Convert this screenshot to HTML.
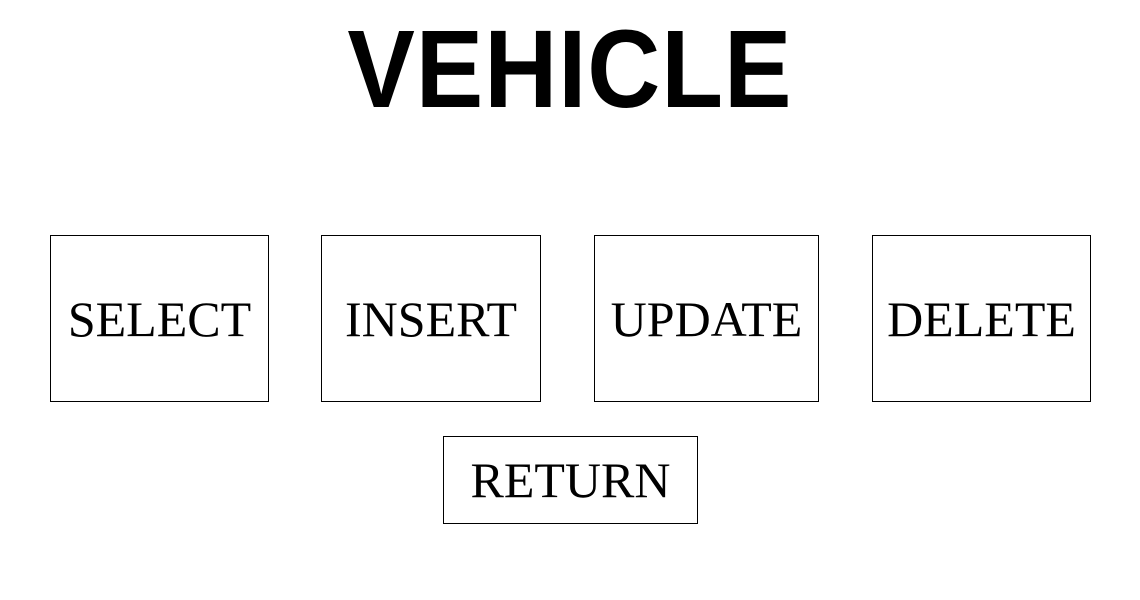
<!DOCTYPE html>
<html><head><meta charset="utf-8"><style>
html,body{margin:0;padding:0;background:#fff;width:1140px;height:600px;overflow:hidden;position:relative}
.title{position:absolute;left:0;width:1140px;top:10px;text-align:center;font-family:"Liberation Sans",sans-serif;font-weight:bold;font-size:110px;line-height:120px;color:#000}
.title span{display:inline-block;transform:scaleX(0.92);letter-spacing:1px}
.btn{position:absolute;box-sizing:border-box;border:1px solid #000;background:#fff;font-family:"Liberation Serif",serif;font-size:50px;color:#000;display:flex;align-items:center;justify-content:center;cursor:pointer}
</style></head><body>
<div class="title"><span>VEHICLE</span></div>
<div class="btn" style="left:50px;top:235px;width:219px;height:167px">SELECT</div>
<div class="btn" style="left:321px;top:235px;width:220px;height:167px">INSERT</div>
<div class="btn" style="left:594px;top:235px;width:225px;height:167px">UPDATE</div>
<div class="btn" style="left:872px;top:235px;width:219px;height:167px">DELETE</div>
<div class="btn" style="left:443px;top:436px;width:255px;height:88px">RETURN</div>
</body></html>
